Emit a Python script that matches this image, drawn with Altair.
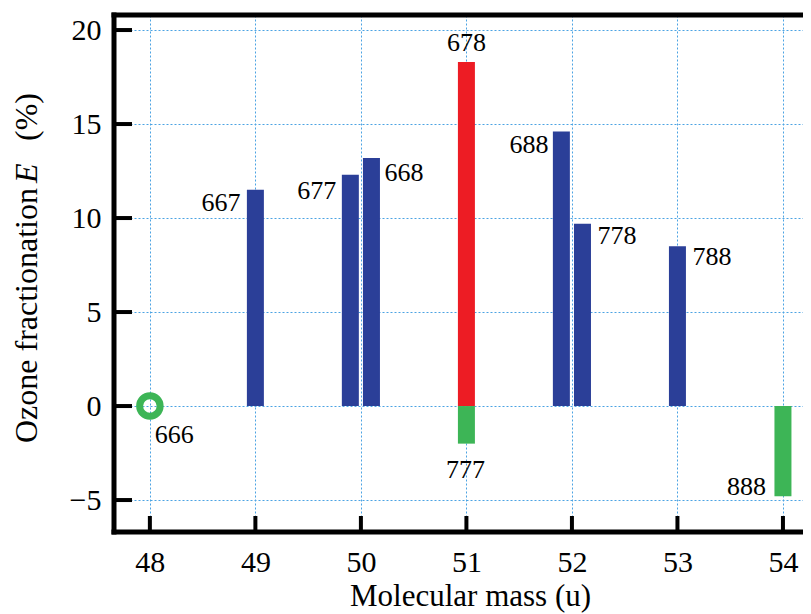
import altair as alt
import pandas as pd

# ---- data ----
isotopologues = ["666", "667", "677", "668", "678", "777", "688", "778", "788", "888"]
mass_position = [48.0, 49.0, 49.9, 50.1, 51.0, 51.0, 51.9, 52.1, 53.0, 54.0]
fractionation = [0.0, 11.5, 12.3, 13.2, 18.3, -2.0, 14.6, 9.7, 8.5, -4.8]
kind = ["ref", "blue", "blue", "blue", "red", "green", "blue", "blue", "blue", "green"]

x_ticks = [48, 49, 50, 51, 52, 53, 54]
y_ticks = [-5, 0, 5, 10, 15, 20]

# ---- styling ----
W, H = 689, 517
FONT = "Liberation Serif"
BLUE, RED, GREEN = "#2B3F98", "#ED1C24", "#3DB556"
GRID = "#4BA3E3"

# label placement (align, dx, dy) relative to bar end
label_style = {
    "666": ("left", 5, 29),
    "667": ("right", -15, 13),
    "677": ("right", -14, 16),
    "668": ("left", 13, 15),
    "678": ("center", 0, -19),
    "777": ("center", -1, 26),
    "688": ("right", -13, 13),
    "778": ("left", 15, 12),
    "788": ("left", 15, 11),
    "888": ("right", -17, -9),
}

df = pd.DataFrame({"iso": isotopologues, "pos": mass_position,
                   "E": fractionation, "kind": kind})
xt = pd.DataFrame({"pos": x_ticks})
yt = pd.DataFrame({"E": y_ticks})
one = pd.DataFrame({"k": [0]})

xscale = alt.Scale(domain=[47.66, 54.19], nice=False, zero=False, padding=0)
yscale = alt.Scale(domain=[-6.70, 20.80], nice=False, zero=False, padding=0)

x_axis = alt.Axis(values=x_ticks, grid=True, gridColor=GRID, gridDash=[2, 2], gridWidth=1,
                  ticks=False, tickSize=0, domain=False, labelFont=FONT, labelFontSize=30,
                  labelColor="black", labelPadding=15, labelFlush=False,
                  title="Molecular mass (u)", titleFont=FONT, titleFontSize=31,
                  titleFontWeight="normal", titleColor="black", titlePadding=4, titleX=356)
y_axis = alt.Axis(values=y_ticks, grid=True, gridColor=GRID, gridDash=[2, 2], gridWidth=1,
                  ticks=False, tickSize=0, domain=False, labelFont=FONT, labelFontSize=30,
                  labelColor="black", labelPadding=13, labelFlush=False, title=None)

X = alt.X("pos:Q", scale=xscale, axis=x_axis)
Y = alt.Y("E:Q", scale=yscale, axis=y_axis)

color_scale = alt.Scale(domain=["blue", "red", "green"], range=[BLUE, RED, GREEN])

bars = alt.Chart(df).transform_filter(alt.datum.kind != "ref").mark_bar(size=17).encode(
    x=X, y=Y, y2=alt.datum(0),
    color=alt.Color("kind:N", scale=color_scale, legend=None),
)

ring = alt.Chart(df).transform_filter(alt.datum.kind == "ref").mark_point(
    shape="circle", size=420, strokeWidth=7, filled=False, color=GREEN, opacity=1
).encode(x=X, y=Y)

labels = []
for iso in isotopologues:
    al, dx, dy = label_style[iso]
    labels.append(
        alt.Chart(df).transform_filter(alt.datum.iso == iso).mark_text(
            align=al, baseline="middle", dx=dx, dy=dy, font=FONT, fontSize=26, color="black"
        ).encode(x=X, y=Y, text="iso:N")
    )

xticks = alt.Chart(xt).mark_rule(color="black", strokeWidth=4).encode(
    x=X, y=alt.value(H - 16), y2=alt.value(H),
)
yticks = alt.Chart(yt).mark_rule(color="black", strokeWidth=4).encode(
    y=Y, x=alt.value(0), x2=alt.value(18),
)

frame_left = alt.Chart(one).mark_rule(color="black", strokeWidth=5, strokeCap="square").encode(
    x=alt.value(0), y=alt.value(0), y2=alt.value(H))
frame_bottom = alt.Chart(one).mark_rule(color="black", strokeWidth=5, strokeCap="square").encode(
    y=alt.value(H), x=alt.value(0), x2=alt.value(W + 10))
frame_top = alt.Chart(one).mark_rule(color="black", strokeWidth=5, strokeCap="square").encode(
    y=alt.value(0), x=alt.value(0), x2=alt.value(W + 10))

ytitle_a = alt.Chart(one).mark_text(angle=270, align="left", baseline="alphabetic",
                                    font=FONT, fontSize=32, color="black").encode(
    x=alt.value(-77), y=alt.value(428), text=alt.value("Ozone fractionation"))
ytitle_b = alt.Chart(one).mark_text(angle=270, align="left", baseline="alphabetic",
                                    font=FONT, fontSize=32, fontStyle="italic", color="black").encode(
    x=alt.value(-77), y=alt.value(168), text=alt.value("E"))
ytitle_c = alt.Chart(one).mark_text(angle=270, align="left", baseline="alphabetic",
                                    font=FONT, fontSize=32, color="black").encode(
    x=alt.value(-77), y=alt.value(126), text=alt.value("(%)"))

chart = alt.layer(
    bars, ring, *labels, xticks, yticks, frame_left, frame_bottom, frame_top,
    ytitle_a, ytitle_b, ytitle_c
).properties(
    width=W, height=H,
    autosize=alt.AutoSizeParams(type="none"),
    padding={"left": 106, "top": 7, "right": 0, "bottom": 82},
).configure_view(stroke=None).configure(background="white")

chart.save("out.html", embed_options={"renderer": "svg", "actions": False})
